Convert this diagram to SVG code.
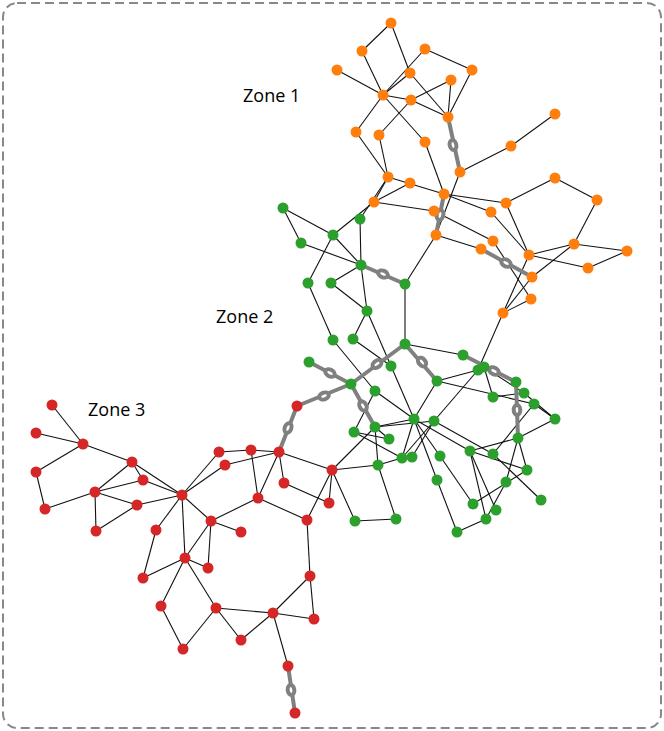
<svg xmlns="http://www.w3.org/2000/svg" width="664" height="731" viewBox="0 0 664 731">
<style>
.frame{fill:#fff;stroke:#888;stroke-width:2;stroke-dasharray:9,5}
.e line{stroke:#111;stroke-width:1.1}
.t line{stroke:#808080;stroke-width:4;stroke-linecap:round}
.t ellipse{fill:#fff;stroke:#808080;stroke-width:4}
.o circle{fill:#ff7f0e}
.g circle{fill:#2ca02c}
.r circle{fill:#d62728}
circle{r:5.5}
text{font-family:"Open Sans","Liberation Sans",sans-serif;font-size:18px;fill:#000}
</style>
<rect class="frame" x="3" y="3" width="658" height="725" rx="14"/>
<text x="243" y="102">Zone 1</text>
<text x="216" y="323">Zone 2</text>
<text x="88" y="416">Zone 3</text>
<g id="connectors">
<g class="e">
<line x1="391" y1="23" x2="362" y2="51"/>
<line x1="391" y1="23" x2="410" y2="73"/>
<line x1="362" y1="51" x2="383" y2="95"/>
<line x1="425" y1="49" x2="472" y2="70"/>
<line x1="425" y1="49" x2="383" y2="95"/>
<line x1="410" y1="73" x2="383" y2="95"/>
<line x1="337" y1="70" x2="383" y2="95"/>
<line x1="410" y1="73" x2="448" y2="117"/>
<line x1="472" y1="70" x2="448" y2="117"/>
<line x1="451" y1="80" x2="411" y2="100"/>
<line x1="451" y1="80" x2="448" y2="117"/>
<line x1="383" y1="95" x2="411" y2="100"/>
<line x1="411" y1="100" x2="448" y2="117"/>
<line x1="383" y1="95" x2="356" y2="132"/>
<line x1="383" y1="95" x2="425" y2="142"/>
<line x1="411" y1="100" x2="379" y2="135"/>
<line x1="356" y1="132" x2="388" y2="177"/>
<line x1="379" y1="135" x2="388" y2="177"/>
<line x1="425" y1="142" x2="444" y2="194"/>
<line x1="555" y1="114" x2="511" y2="146"/>
<line x1="511" y1="146" x2="460" y2="172"/>
<line x1="460" y1="172" x2="436" y2="235"/>
<line x1="388" y1="177" x2="374" y2="202"/>
<line x1="388" y1="177" x2="360" y2="219"/>
<line x1="374" y1="202" x2="333" y2="235"/>
<line x1="374" y1="202" x2="410" y2="183"/>
<line x1="388" y1="177" x2="444" y2="194"/>
<line x1="444" y1="194" x2="506" y2="203"/>
<line x1="444" y1="194" x2="491" y2="212"/>
<line x1="491" y1="212" x2="529" y2="255"/>
<line x1="374" y1="202" x2="434" y2="211"/>
<line x1="434" y1="211" x2="493" y2="241"/>
<line x1="493" y1="241" x2="531" y2="299"/>
<line x1="436" y1="235" x2="481" y2="249"/>
<line x1="506" y1="203" x2="555" y2="178"/>
<line x1="555" y1="178" x2="597" y2="200"/>
<line x1="597" y1="200" x2="574" y2="244"/>
<line x1="506" y1="203" x2="529" y2="255"/>
<line x1="529" y1="255" x2="574" y2="244"/>
<line x1="574" y1="244" x2="627" y2="251"/>
<line x1="627" y1="251" x2="588" y2="268"/>
<line x1="588" y1="268" x2="529" y2="255"/>
<line x1="574" y1="244" x2="532" y2="277"/>
<line x1="503" y1="313" x2="532" y2="277"/>
<line x1="503" y1="313" x2="529" y2="255"/>
<line x1="503" y1="313" x2="531" y2="299"/>
<line x1="503" y1="313" x2="478" y2="370"/>
<line x1="283" y1="208" x2="301" y2="243"/>
<line x1="283" y1="208" x2="333" y2="235"/>
<line x1="333" y1="235" x2="361" y2="265"/>
<line x1="301" y1="243" x2="361" y2="265"/>
<line x1="333" y1="235" x2="308" y2="283"/>
<line x1="360" y1="219" x2="361" y2="265"/>
<line x1="361" y1="265" x2="331" y2="283"/>
<line x1="361" y1="265" x2="367" y2="311"/>
<line x1="331" y1="283" x2="367" y2="311"/>
<line x1="308" y1="283" x2="333" y2="340"/>
<line x1="367" y1="311" x2="353" y2="339"/>
<line x1="367" y1="311" x2="391" y2="366"/>
<line x1="405" y1="284" x2="405" y2="344"/>
<line x1="436" y1="235" x2="405" y2="284"/>
<line x1="405" y1="344" x2="463" y2="355"/>
<line x1="333" y1="340" x2="375" y2="391"/>
<line x1="353" y1="339" x2="391" y2="366"/>
<line x1="391" y1="366" x2="414" y2="419"/>
<line x1="375" y1="391" x2="414" y2="419"/>
<line x1="375" y1="391" x2="354" y2="432"/>
<line x1="437" y1="381" x2="414" y2="419"/>
<line x1="437" y1="381" x2="478" y2="370"/>
<line x1="437" y1="381" x2="534" y2="404"/>
<line x1="478" y1="370" x2="434" y2="421"/>
<line x1="484" y1="367" x2="493" y2="397"/>
<line x1="484" y1="367" x2="524" y2="393"/>
<line x1="493" y1="397" x2="524" y2="393"/>
<line x1="524" y1="393" x2="555" y2="419"/>
<line x1="534" y1="404" x2="555" y2="419"/>
<line x1="555" y1="419" x2="518" y2="438"/>
<line x1="518" y1="438" x2="470" y2="451"/>
<line x1="518" y1="438" x2="527" y2="470"/>
<line x1="518" y1="438" x2="506" y2="482"/>
<line x1="506" y1="482" x2="486" y2="519"/>
<line x1="534" y1="404" x2="493" y2="454"/>
<line x1="527" y1="470" x2="473" y2="504"/>
<line x1="470" y1="451" x2="527" y2="470"/>
<line x1="470" y1="451" x2="496" y2="510"/>
<line x1="470" y1="451" x2="486" y2="519"/>
<line x1="493" y1="454" x2="541" y2="500"/>
<line x1="440" y1="456" x2="473" y2="504"/>
<line x1="437" y1="480" x2="457" y2="532"/>
<line x1="457" y1="532" x2="486" y2="519"/>
<line x1="414" y1="419" x2="375" y2="427"/>
<line x1="414" y1="419" x2="402" y2="458"/>
<line x1="414" y1="419" x2="440" y2="456"/>
<line x1="414" y1="419" x2="470" y2="451"/>
<line x1="414" y1="419" x2="437" y2="480"/>
<line x1="434" y1="421" x2="412" y2="457"/>
<line x1="434" y1="421" x2="493" y2="454"/>
<line x1="434" y1="421" x2="402" y2="458"/>
<line x1="375" y1="427" x2="434" y2="421"/>
<line x1="375" y1="427" x2="389" y2="439"/>
<line x1="375" y1="427" x2="378" y2="465"/>
<line x1="354" y1="432" x2="389" y2="439"/>
<line x1="354" y1="432" x2="402" y2="458"/>
<line x1="378" y1="465" x2="402" y2="458"/>
<line x1="378" y1="465" x2="396" y2="519"/>
<line x1="355" y1="521" x2="396" y2="519"/>
<line x1="332" y1="470" x2="378" y2="465"/>
<line x1="332" y1="470" x2="375" y2="427"/>
<line x1="332" y1="470" x2="355" y2="521"/>
<line x1="52" y1="405" x2="83" y2="444"/>
<line x1="36" y1="433" x2="83" y2="444"/>
<line x1="83" y1="444" x2="36" y2="472"/>
<line x1="83" y1="444" x2="132" y2="462"/>
<line x1="36" y1="472" x2="45" y2="509"/>
<line x1="45" y1="509" x2="95" y2="492"/>
<line x1="132" y1="462" x2="95" y2="492"/>
<line x1="132" y1="462" x2="143" y2="480"/>
<line x1="132" y1="462" x2="182" y2="495"/>
<line x1="95" y1="492" x2="143" y2="480"/>
<line x1="95" y1="492" x2="137" y2="505"/>
<line x1="95" y1="492" x2="96" y2="531"/>
<line x1="96" y1="531" x2="137" y2="505"/>
<line x1="137" y1="505" x2="182" y2="495"/>
<line x1="143" y1="480" x2="182" y2="495"/>
<line x1="182" y1="495" x2="156" y2="530"/>
<line x1="219" y1="452" x2="251" y2="450"/>
<line x1="251" y1="450" x2="279" y2="452"/>
<line x1="219" y1="452" x2="182" y2="495"/>
<line x1="225" y1="465" x2="182" y2="495"/>
<line x1="225" y1="465" x2="279" y2="452"/>
<line x1="279" y1="452" x2="332" y2="470"/>
<line x1="279" y1="452" x2="258" y2="498"/>
<line x1="251" y1="450" x2="258" y2="498"/>
<line x1="279" y1="452" x2="284" y2="483"/>
<line x1="284" y1="483" x2="329" y2="503"/>
<line x1="332" y1="470" x2="329" y2="503"/>
<line x1="332" y1="470" x2="307" y2="520"/>
<line x1="258" y1="498" x2="211" y2="521"/>
<line x1="258" y1="498" x2="307" y2="520"/>
<line x1="182" y1="495" x2="211" y2="521"/>
<line x1="182" y1="495" x2="185" y2="558"/>
<line x1="211" y1="521" x2="241" y2="532"/>
<line x1="211" y1="521" x2="185" y2="558"/>
<line x1="211" y1="521" x2="208" y2="568"/>
<line x1="156" y1="530" x2="143" y2="578"/>
<line x1="307" y1="520" x2="310" y2="576"/>
<line x1="185" y1="558" x2="143" y2="578"/>
<line x1="185" y1="558" x2="208" y2="568"/>
<line x1="185" y1="558" x2="161" y2="606"/>
<line x1="185" y1="558" x2="216" y2="608"/>
<line x1="161" y1="606" x2="183" y2="649"/>
<line x1="216" y1="608" x2="183" y2="649"/>
<line x1="216" y1="608" x2="273" y2="613"/>
<line x1="216" y1="608" x2="241" y2="640"/>
<line x1="241" y1="640" x2="273" y2="613"/>
<line x1="273" y1="613" x2="310" y2="576"/>
<line x1="273" y1="613" x2="314" y2="619"/>
<line x1="310" y1="576" x2="314" y2="619"/>
<line x1="273" y1="613" x2="288" y2="666"/>
</g>
<g class="t">
<line x1="448" y1="117" x2="460" y2="172"/>
<line x1="444" y1="194" x2="436" y2="235"/>
<line x1="481" y1="249" x2="532" y2="277"/>
<line x1="361" y1="265" x2="405" y2="284"/>
<line x1="405" y1="344" x2="351" y2="384"/>
<line x1="351" y1="384" x2="297" y2="406"/>
<line x1="309" y1="362" x2="351" y2="384"/>
<line x1="405" y1="344" x2="437" y2="381"/>
<line x1="351" y1="384" x2="375" y2="427"/>
<line x1="297" y1="406" x2="279" y2="452"/>
<line x1="463" y1="355" x2="516" y2="382"/>
<line x1="516" y1="382" x2="518" y2="438"/>
<line x1="288" y1="666" x2="295" y2="713"/>
<ellipse cx="453" cy="145" rx="5" ry="3.3" transform="rotate(78 453 145)"/>
<ellipse cx="440" cy="215" rx="5" ry="3.3" transform="rotate(-79 440 215)"/>
<ellipse cx="506" cy="263" rx="5" ry="3.3" transform="rotate(29 506 263)"/>
<ellipse cx="383" cy="274" rx="5" ry="3.3" transform="rotate(23 383 274)"/>
<ellipse cx="377" cy="364" rx="5" ry="3.3" transform="rotate(-36 377 364)"/>
<ellipse cx="324" cy="396" rx="5" ry="3.3" transform="rotate(-22 324 396)"/>
<ellipse cx="330" cy="373" rx="5" ry="3.3" transform="rotate(28 330 373)"/>
<ellipse cx="422" cy="362" rx="5" ry="3.3" transform="rotate(49 422 362)"/>
<ellipse cx="363" cy="406" rx="5" ry="3.3" transform="rotate(60 363 406)"/>
<ellipse cx="288" cy="428" rx="5" ry="3.3" transform="rotate(-69 288 428)"/>
<ellipse cx="494" cy="371" rx="5" ry="3.3" transform="rotate(27 494 371)"/>
<ellipse cx="517" cy="410" rx="5" ry="3.3" transform="rotate(88 517 410)"/>
<ellipse cx="291" cy="690" rx="5" ry="3.3" transform="rotate(82 291 690)"/>
</g>
</g>
<g class="o">
<g id="o1"><circle cx="391" cy="23"/></g><g id="o2"><circle cx="362" cy="51"/></g><g id="o3"><circle cx="425" cy="49"/></g><g id="o4"><circle cx="337" cy="70"/></g><g id="o5"><circle cx="410" cy="73"/></g><g id="o6"><circle cx="472" cy="70"/></g><g id="o7"><circle cx="451" cy="80"/></g><g id="o8"><circle cx="383" cy="95"/></g><g id="o9"><circle cx="411" cy="100"/></g><g id="o10"><circle cx="448" cy="117"/></g><g id="o11"><circle cx="555" cy="114"/></g><g id="o12"><circle cx="356" cy="132"/></g><g id="o13"><circle cx="379" cy="135"/></g><g id="o14"><circle cx="425" cy="142"/></g><g id="o15"><circle cx="511" cy="146"/></g><g id="o16"><circle cx="460" cy="172"/></g><g id="o17"><circle cx="388" cy="177"/></g><g id="o18"><circle cx="410" cy="183"/></g><g id="o19"><circle cx="555" cy="178"/></g><g id="o20"><circle cx="444" cy="194"/></g><g id="o21"><circle cx="374" cy="202"/></g><g id="o22"><circle cx="597" cy="200"/></g><g id="o23"><circle cx="506" cy="203"/></g><g id="o24"><circle cx="434" cy="211"/></g><g id="o25"><circle cx="491" cy="212"/></g><g id="o26"><circle cx="436" cy="235"/></g><g id="o27"><circle cx="493" cy="241"/></g><g id="o28"><circle cx="574" cy="244"/></g><g id="o29"><circle cx="481" cy="249"/></g><g id="o30"><circle cx="627" cy="251"/></g><g id="o31"><circle cx="529" cy="255"/></g><g id="o32"><circle cx="588" cy="268"/></g><g id="o33"><circle cx="532" cy="277"/></g><g id="o34"><circle cx="531" cy="299"/></g><g id="o35"><circle cx="503" cy="313"/></g>
</g>
<g class="g">
<g id="g1"><circle cx="283" cy="208"/></g><g id="g2"><circle cx="360" cy="219"/></g><g id="g3"><circle cx="333" cy="235"/></g><g id="g4"><circle cx="301" cy="243"/></g><g id="g5"><circle cx="361" cy="265"/></g><g id="g6"><circle cx="405" cy="284"/></g><g id="g7"><circle cx="308" cy="283"/></g><g id="g8"><circle cx="331" cy="283"/></g><g id="g9"><circle cx="367" cy="311"/></g><g id="g10"><circle cx="333" cy="340"/></g><g id="g11"><circle cx="353" cy="339"/></g><g id="g12"><circle cx="405" cy="344"/></g><g id="g13"><circle cx="463" cy="355"/></g><g id="g14"><circle cx="309" cy="362"/></g><g id="g15"><circle cx="391" cy="366"/></g><g id="g16"><circle cx="478" cy="370"/></g><g id="g17"><circle cx="484" cy="367"/></g><g id="g18"><circle cx="351" cy="384"/></g><g id="g19"><circle cx="437" cy="381"/></g><g id="g20"><circle cx="516" cy="382"/></g><g id="g21"><circle cx="375" cy="391"/></g><g id="g22"><circle cx="524" cy="393"/></g><g id="g23"><circle cx="493" cy="397"/></g><g id="g24"><circle cx="534" cy="404"/></g><g id="g25"><circle cx="414" cy="419"/></g><g id="g26"><circle cx="434" cy="421"/></g><g id="g27"><circle cx="555" cy="419"/></g><g id="g28"><circle cx="375" cy="427"/></g><g id="g29"><circle cx="354" cy="432"/></g><g id="g30"><circle cx="389" cy="439"/></g><g id="g31"><circle cx="518" cy="438"/></g><g id="g32"><circle cx="470" cy="451"/></g><g id="g33"><circle cx="402" cy="458"/></g><g id="g34"><circle cx="412" cy="457"/></g><g id="g35"><circle cx="440" cy="456"/></g><g id="g36"><circle cx="493" cy="454"/></g><g id="g37"><circle cx="378" cy="465"/></g><g id="g38"><circle cx="527" cy="470"/></g><g id="g39"><circle cx="437" cy="480"/></g><g id="g40"><circle cx="506" cy="482"/></g><g id="g41"><circle cx="541" cy="500"/></g><g id="g42"><circle cx="473" cy="504"/></g><g id="g43"><circle cx="496" cy="510"/></g><g id="g44"><circle cx="486" cy="519"/></g><g id="g45"><circle cx="355" cy="521"/></g><g id="g46"><circle cx="396" cy="519"/></g><g id="g47"><circle cx="457" cy="532"/></g>
</g>
<g class="r">
<g id="r1"><circle cx="52" cy="405"/></g><g id="r2"><circle cx="36" cy="433"/></g><g id="r3"><circle cx="83" cy="444"/></g><g id="r4"><circle cx="132" cy="462"/></g><g id="r5"><circle cx="36" cy="472"/></g><g id="r6"><circle cx="143" cy="480"/></g><g id="r7"><circle cx="95" cy="492"/></g><g id="r8"><circle cx="182" cy="495"/></g><g id="r9"><circle cx="45" cy="509"/></g><g id="r10"><circle cx="137" cy="505"/></g><g id="r11"><circle cx="96" cy="531"/></g><g id="r12"><circle cx="156" cy="530"/></g><g id="r13"><circle cx="219" cy="452"/></g><g id="r14"><circle cx="251" cy="450"/></g><g id="r15"><circle cx="279" cy="452"/></g><g id="r16"><circle cx="225" cy="465"/></g><g id="r17"><circle cx="297" cy="406"/></g><g id="r18"><circle cx="332" cy="470"/></g><g id="r19"><circle cx="284" cy="483"/></g><g id="r20"><circle cx="258" cy="498"/></g><g id="r21"><circle cx="329" cy="503"/></g><g id="r22"><circle cx="211" cy="521"/></g><g id="r23"><circle cx="307" cy="520"/></g><g id="r24"><circle cx="241" cy="532"/></g><g id="r25"><circle cx="185" cy="558"/></g><g id="r26"><circle cx="208" cy="568"/></g><g id="r27"><circle cx="143" cy="578"/></g><g id="r28"><circle cx="310" cy="576"/></g><g id="r29"><circle cx="161" cy="606"/></g><g id="r30"><circle cx="216" cy="608"/></g><g id="r31"><circle cx="273" cy="613"/></g><g id="r32"><circle cx="314" cy="619"/></g><g id="r33"><circle cx="241" cy="640"/></g><g id="r34"><circle cx="183" cy="649"/></g><g id="r35"><circle cx="288" cy="666"/></g><g id="r36"><circle cx="295" cy="713"/></g>
</g>
</svg>
